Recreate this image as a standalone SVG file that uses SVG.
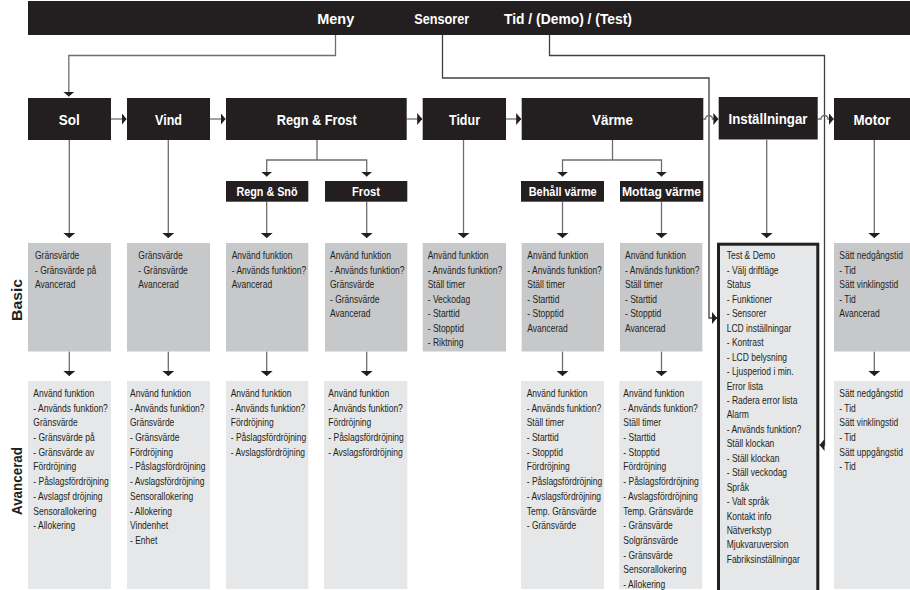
<svg xmlns="http://www.w3.org/2000/svg" width="910" height="590" viewBox="0 0 910 590">
<style>
.hdr{fill:#231f20}
.ht{font-family:"Liberation Sans",Arial,sans-serif;font-weight:bold;fill:#ffffff;text-anchor:middle;lengthAdjust:spacingAndGlyphs}
.h1{font-size:15px}
.h2{font-size:12.5px}
.basic{fill:#c7c8ca}
.adv{fill:#e6e7e8}
.lst{font-family:"Liberation Sans",Arial,sans-serif;font-size:10px;fill:#231f20}
.side{font-family:"Liberation Sans",Arial,sans-serif;font-weight:bold;font-size:15px;fill:#231f20;text-anchor:middle}
.ln{fill:none;stroke:#6d6e71;stroke-width:1.3}
.lnd{fill:none;stroke:#414042;stroke-width:1.3}
</style>
<defs>
<marker id="ah" viewBox="0 0 5 12" refX="5" refY="6" markerWidth="5" markerHeight="12" markerUnits="userSpaceOnUse" orient="auto">
<path d="M0,0 L5,6 L0,12 z" fill="#231f20"/>
</marker>
</defs>
<rect width="910" height="590" fill="#ffffff"/>

<g id="topbar">
<rect class="hdr" x="28" y="1" width="882" height="34"/>
<text class="ht h1" x="335.7" y="24" textLength="37" lengthAdjust="spacingAndGlyphs">Meny</text>
<text class="ht h1" x="441.8" y="24" textLength="55" lengthAdjust="spacingAndGlyphs">Sensorer</text>
<text class="ht h1" x="568" y="24" textLength="128" lengthAdjust="spacingAndGlyphs">Tid / (Demo) / (Test)</text>
</g>

<g id="side-labels">
<text class="side" transform="translate(21.5,300) rotate(-90)" textLength="42" lengthAdjust="spacingAndGlyphs">Basic</text>
<text class="side" transform="translate(21.5,481) rotate(-90)" textLength="68" lengthAdjust="spacingAndGlyphs">Avancerad</text>
</g>

<g id="connectors">
<path class="ln" d="M335.5,35 V55.5 H68.8 V96.5" marker-end="url(#ah)"/>
<path class="lnd" d="M442.5,35 V78 H709 V318 H717" marker-end="url(#ah)"/>
<path class="lnd" d="M549.5,35 V55.5 H824.5 V445 H819.5" marker-end="url(#ah)"/>
<path class="ln" d="M111,119 H126.5" marker-end="url(#ah)"/>
<path class="ln" d="M210,119 H225.5" marker-end="url(#ah)"/>
<path class="ln" d="M406.7,119 H422.2" marker-end="url(#ah)"/>
<path class="ln" d="M506,119 H521.2" marker-end="url(#ah)"/>
<path class="ln" d="M703.3,119 H705.5 A3.5,3.5 0 0 1 712.5,119 H718.4" marker-end="url(#ah)"/>
<path class="ln" d="M817.7,119 H821 A3.5,3.5 0 0 1 828,119 H833.7" marker-end="url(#ah)"/>
<path class="ln" d="M317,140 V160"/>
<path class="ln" d="M317,160 H266.7 V176.5" marker-end="url(#ah)"/>
<path class="ln" d="M317,160 H366.7 V176.5" marker-end="url(#ah)"/>
<path class="ln" d="M612.5,140 V160"/>
<path class="ln" d="M612.5,160 H562.5 V176.5" marker-end="url(#ah)"/>
<path class="ln" d="M612.5,160 H661.5 V176.5" marker-end="url(#ah)"/>
<path class="ln" d="M69.3,140 V238" marker-end="url(#ah)"/>
<path class="ln" d="M168.3,140 V238" marker-end="url(#ah)"/>
<path class="ln" d="M266.7,201.7 V238" marker-end="url(#ah)"/>
<path class="ln" d="M366.7,201.7 V238" marker-end="url(#ah)"/>
<path class="ln" d="M463.5,140 V238" marker-end="url(#ah)"/>
<path class="ln" d="M562.5,201.7 V238" marker-end="url(#ah)"/>
<path class="ln" d="M661.5,201.7 V238" marker-end="url(#ah)"/>
<path class="ln" d="M766.7,140 V238" marker-end="url(#ah)"/>
<path class="ln" d="M874.3,140 V238" marker-end="url(#ah)"/>
<path class="ln" d="M69.3,351.5 V376" marker-end="url(#ah)"/>
<path class="ln" d="M168.3,351.5 V376" marker-end="url(#ah)"/>
<path class="ln" d="M266.7,351.5 V376" marker-end="url(#ah)"/>
<path class="ln" d="M366.7,351.5 V376" marker-end="url(#ah)"/>
<path class="ln" d="M562.5,351.5 V376" marker-end="url(#ah)"/>
<path class="ln" d="M661.5,351.5 V376" marker-end="url(#ah)"/>
<path class="ln" d="M874.3,351.5 V376" marker-end="url(#ah)"/>
</g>

<g id="sol"><rect class="hdr" x="28" y="98" width="83" height="42"/><text class="ht h1" x="69.3" y="124.5" textLength="21" lengthAdjust="spacingAndGlyphs">Sol</text></g>
<g id="vind"><rect class="hdr" x="127" y="98" width="83" height="42"/><text class="ht h1" x="168.5" y="124.5" textLength="27" lengthAdjust="spacingAndGlyphs">Vind</text></g>
<g id="regn-frost"><rect class="hdr" x="226" y="98" width="180.7" height="42"/><text class="ht h1" x="316.7" y="124.5" textLength="80" lengthAdjust="spacingAndGlyphs">Regn &amp; Frost</text></g>
<g id="tidur"><rect class="hdr" x="422.7" y="98" width="83.3" height="42"/><text class="ht h1" x="464.5" y="124.5" textLength="31" lengthAdjust="spacingAndGlyphs">Tidur</text></g>
<g id="varme"><rect class="hdr" x="521.7" y="98" width="181.6" height="42"/><text class="ht h1" x="612.5" y="124.5" textLength="41" lengthAdjust="spacingAndGlyphs">Värme</text></g>
<g id="installningar"><rect class="hdr" x="718.7" y="97" width="99" height="42.5"/><text class="ht h1" x="768" y="124" textLength="79" lengthAdjust="spacingAndGlyphs">Inställningar</text></g>
<g id="motor"><rect class="hdr" x="834" y="98" width="76" height="42"/><text class="ht h1" x="872" y="124.5" textLength="37" lengthAdjust="spacingAndGlyphs">Motor</text></g>

<g id="regn-sno"><rect class="hdr" x="226" y="181" width="82.3" height="20.7"/><text class="ht h2" x="267" y="195.6" textLength="61" lengthAdjust="spacingAndGlyphs">Regn &amp; Snö</text></g>
<g id="frost"><rect class="hdr" x="325" y="181" width="82.3" height="20.7"/><text class="ht h2" x="366" y="195.6" textLength="28" lengthAdjust="spacingAndGlyphs">Frost</text></g>
<g id="behall-varme"><rect class="hdr" x="521" y="181" width="83" height="20.7"/><text class="ht h2" x="562.7" y="195.6" textLength="68" lengthAdjust="spacingAndGlyphs">Behåll värme</text></g>
<g id="mottag-varme"><rect class="hdr" x="620" y="181" width="83.3" height="20.7"/><text class="ht h2" x="661.5" y="195.6" textLength="79" lengthAdjust="spacingAndGlyphs">Mottag värme</text></g>

<g id="sol-basic"><rect class="basic" x="28" y="243" width="83" height="108.5"/>
<g class="lst" transform="translate(35,0) scale(0.85,1)"><text y="259.5">Gränsvärde</text><text y="274">- Gränsvärde på</text><text y="288.5">Avancerad</text></g></g>
<g id="vind-basic"><rect class="basic" x="127" y="243" width="83" height="108.5"/>
<g class="lst" transform="translate(138.3,0) scale(0.85,1)"><text y="259.5">Gränsvärde</text><text y="274">- Gränsvärde</text><text y="288.5">Avancerad</text></g></g>
<g id="regnsno-basic"><rect class="basic" x="226" y="243" width="82.3" height="108.5"/>
<g class="lst" transform="translate(231.7,0) scale(0.85,1)"><text y="259.5">Använd funktion</text><text y="274">- Används funktion?</text><text y="288.5">Avancerad</text></g></g>
<g id="frost-basic"><rect class="basic" x="325" y="243" width="82.3" height="108.5"/>
<g class="lst" transform="translate(330,0) scale(0.85,1)"><text y="259.5">Använd funktion</text><text y="274">- Används funktion?</text><text y="288.5">Gränsvärde</text><text y="303">- Gränsvärde</text><text y="317.5">Avancerad</text></g></g>
<g id="tidur-basic"><rect class="basic" x="422.7" y="243" width="83.3" height="108.5"/>
<g class="lst" transform="translate(427.7,0) scale(0.85,1)"><text y="259.5">Använd funktion</text><text y="274">- Används funktion?</text><text y="288.5">Ställ timer</text><text y="303">- Veckodag</text><text y="317.5">- Starttid</text><text y="332">- Stopptid</text><text y="346.5">- Riktning</text></g></g>
<g id="behall-basic"><rect class="basic" x="521.7" y="243" width="82.3" height="108.5"/>
<g class="lst" transform="translate(527.3,0) scale(0.85,1)"><text y="259.5">Använd funktion</text><text y="274">- Används funktion?</text><text y="288.5">Ställ timer</text><text y="303">- Starttid</text><text y="317.5">- Stopptid</text><text y="332">Avancerad</text></g></g>
<g id="mottag-basic"><rect class="basic" x="620" y="243" width="82.3" height="108.5"/>
<g class="lst" transform="translate(625,0) scale(0.85,1)"><text y="259.5">Använd funktion</text><text y="274">- Används funktion?</text><text y="288.5">Ställ timer</text><text y="303">- Starttid</text><text y="317.5">- Stopptid</text><text y="332">Avancerad</text></g></g>
<g id="installningar-list"><rect class="adv" x="718.5" y="244.2" width="99.3" height="360" stroke="#231f20" stroke-width="3"/>
<g class="lst" transform="translate(726.7,0) scale(0.85,1)"><text y="259.5">Test &amp; Demo</text><text y="273.95">- Välj driftläge</text><text y="288.4">Status</text><text y="302.85">- Funktioner</text><text y="317.3">- Sensorer</text><text y="331.75">LCD inställningar</text><text y="346.2">- Kontrast</text><text y="360.65">- LCD belysning</text><text y="375.1">- Ljusperiod i min.</text><text y="389.55">Error lista</text><text y="404">- Radera error lista</text><text y="418.45">Alarm</text><text y="432.9">- Används funktion?</text><text y="447.35">Ställ klockan</text><text y="461.8">- Ställ klockan</text><text y="476.25">- Ställ veckodag</text><text y="490.7">Språk</text><text y="505.15">- Valt språk</text><text y="519.6">Kontakt info</text><text y="534.05">Nätverkstyp</text><text y="548.5">Mjukvaruversion</text><text y="562.95">Fabriksinställningar</text></g></g>
<g id="motor-basic"><rect class="basic" x="834" y="243" width="76" height="108.5"/>
<g class="lst" transform="translate(839.3,0) scale(0.85,1)"><text y="259.5">Sätt nedgångstid</text><text y="274">- Tid</text><text y="288.5">Sätt vinklingstid</text><text y="303">- Tid</text><text y="317.5">Avancerad</text></g></g>

<g id="sol-adv"><rect class="adv" x="28" y="381" width="83" height="208"/>
<g class="lst" transform="translate(33.3,0) scale(0.85,1)"><text y="397">Använd funktion</text><text y="411.7">- Används funktion?</text><text y="426.4">Gränsvärde</text><text y="441.1">- Gränsvärde på</text><text y="455.8">- Gränsvärde av</text><text y="470.5">Fördröjning</text><text y="485.2">- Påslagsfördröjning</text><text y="499.9">- Avslagsf dröjning</text><text y="514.6">Sensorallokering</text><text y="529.3">- Allokering</text></g></g>
<g id="vind-adv"><rect class="adv" x="127" y="381" width="83" height="208"/>
<g class="lst" transform="translate(130,0) scale(0.85,1)"><text y="397">Använd funktion</text><text y="411.7">- Används funktion?</text><text y="426.4">Gränsvärde</text><text y="441.1">- Gränsvärde</text><text y="455.8">Fördröjning</text><text y="470.5">- Påslagsfördröjning</text><text y="485.2">- Avslagsfördröjning</text><text y="499.9">Sensorallokering</text><text y="514.6">- Allokering</text><text y="529.3">Vindenhet</text><text y="544">- Enhet</text></g></g>
<g id="regnsno-adv"><rect class="adv" x="226" y="381" width="82.3" height="208"/>
<g class="lst" transform="translate(230.7,0) scale(0.85,1)"><text y="397">Använd funktion</text><text y="411.7">- Används funktion?</text><text y="426.4">Fördröjning</text><text y="441.1">- Påslagsfördröjning</text><text y="455.8">- Avslagsfördröjning</text></g></g>
<g id="frost-adv"><rect class="adv" x="324" y="381" width="83.3" height="208"/>
<g class="lst" transform="translate(328.3,0) scale(0.85,1)"><text y="397">Använd funktion</text><text y="411.7">- Används funktion?</text><text y="426.4">Fördröjning</text><text y="441.1">- Påslagsfördröjning</text><text y="455.8">- Avslagsfördröjning</text></g></g>
<g id="behall-adv"><rect class="adv" x="521" y="381" width="83" height="208"/>
<g class="lst" transform="translate(526.7,0) scale(0.85,1)"><text y="397">Använd funktion</text><text y="411.7">- Används funktion?</text><text y="426.4">Ställ timer</text><text y="441.1">- Starttid</text><text y="455.8">- Stopptid</text><text y="470.5">Fördröjning</text><text y="485.2">- Påslagsfördröjning</text><text y="499.9">- Avslagsfördröjning</text><text y="514.6">Temp. Gränsvärde</text><text y="529.3">- Gränsvärde</text></g></g>
<g id="mottag-adv"><rect class="adv" x="619.3" y="381" width="83" height="208"/>
<g class="lst" transform="translate(623.3,0) scale(0.85,1)"><text y="397">Använd funktion</text><text y="411.7">- Används funktion?</text><text y="426.4">Ställ timer</text><text y="441.1">- Starttid</text><text y="455.8">- Stopptid</text><text y="470.5">Fördröjning</text><text y="485.2">- Påslagsfördröjning</text><text y="499.9">- Avslagsfördröjning</text><text y="514.6">Temp. Gränsvärde</text><text y="529.3">- Gränsvärde</text><text y="544">Solgränsvärde</text><text y="558.7">- Gränsvärde</text><text y="573.4">Sensorallokering</text><text y="588.1">- Allokering</text></g></g>
<g id="motor-adv"><rect class="adv" x="834" y="381" width="76" height="208"/>
<g class="lst" transform="translate(839.3,0) scale(0.85,1)"><text y="397">Sätt nedgångstid</text><text y="411.7">- Tid</text><text y="426.4">Sätt vinklingstid</text><text y="441.1">- Tid</text><text y="455.8">Sätt uppgångstid</text><text y="470.5">- Tid</text></g></g>
</svg>
